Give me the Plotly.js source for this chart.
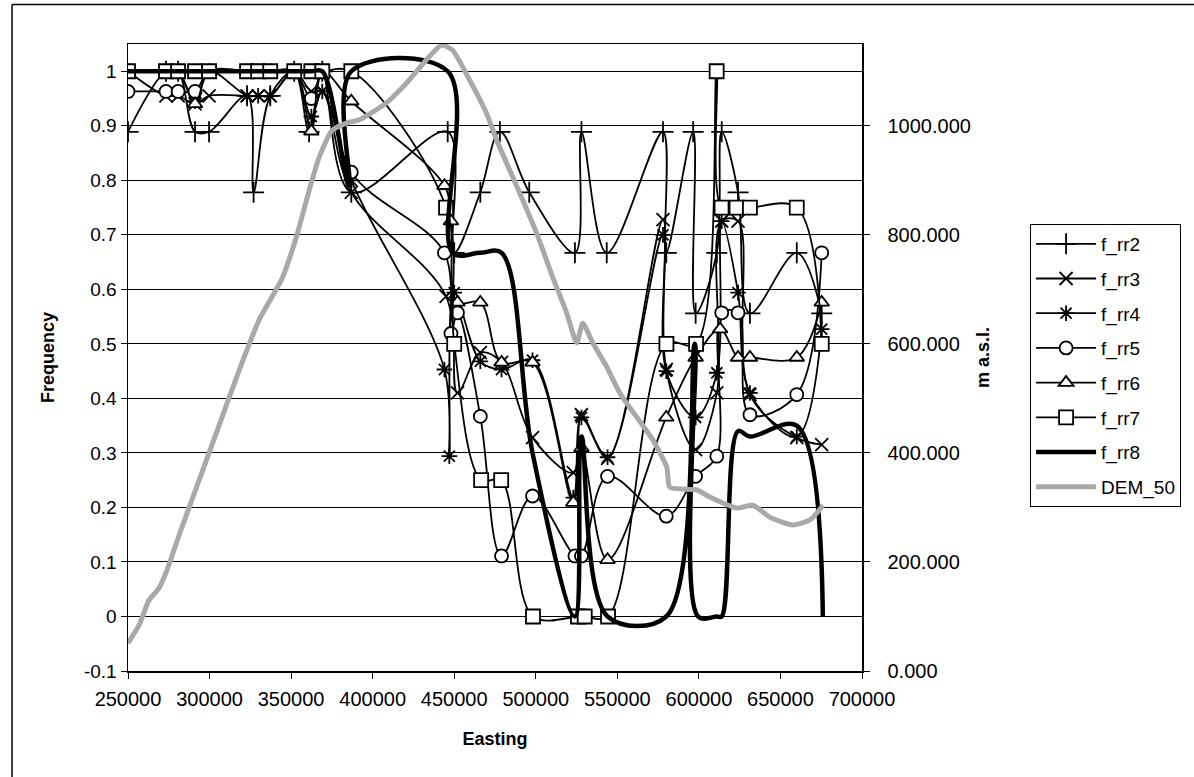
<!DOCTYPE html>
<html>
<head>
<meta charset="utf-8">
<script src="https://cdn.plot.ly/plotly-3.0.1.min.js"></script>
<style>html,body{margin:0;padding:0;background:#fff;}#chart{width:1194px;height:777px;}</style>
</head>
<body>
<div id="chart"></div>
<script>
// ---- data ----
const x_rr2 = [250000, 273300, 280700, 291100, 299700, 323000, 327000, 337200, 351900, 361000, 369100, 386900, 446000, 450000, 466000, 478000, 496000, 524000, 528000, 543500, 578000, 580000, 596500, 598000, 611000, 614000, 624000, 631300, 660000, 675300];
const f_rr2 = [0.889, 1, 1, 0.889, 0.889, 0.955, 0.778, 0.955, 1, 0.889, 1, 0.778, 0.889, 0.667, 0.778, 0.889, 0.778, 0.667, 0.889, 0.667, 0.889, 0.667, 0.889, 0.556, 0.667, 0.889, 0.778, 0.556, 0.667, 0.556];

const x_rr3 = [250000, 273300, 280700, 291100, 299700, 323000, 329800, 337200, 351900, 362400, 369100, 386900, 445000, 452000, 466000, 479000, 498000, 523000, 528000, 544000, 578000, 580000, 598000, 611000, 614000, 624000, 631300, 660000, 675300];
const f_rr3 = [1, 0.955, 0.955, 0.94, 0.955, 0.955, 0.955, 0.955, 1, 0.963, 0.963, 0.778, 0.587, 0.41, 0.484, 0.466, 0.328, 0.264, 0.37, 0.29, 0.728, 0.453, 0.306, 0.41, 0.725, 0.725, 0.407, 0.328, 0.315];

const x_rr4 = [250000, 273300, 280700, 291100, 299700, 323000, 329800, 337200, 351900, 362400, 369100, 386900, 444000, 447000, 450000, 466000, 479000, 498000, 523000, 528000, 544000, 578000, 580000, 598000, 611000, 614000, 624000, 631300, 660000, 675300];
const f_rr4 = [1, 1, 1, 0.945, 1, 0.955, 0.955, 0.955, 1, 0.917, 0.963, 0.8, 0.453, 0.294, 0.594, 0.468, 0.453, 0.47, 0.218, 0.365, 0.292, 0.7, 0.45, 0.365, 0.447, 0.725, 0.594, 0.41, 0.33, 0.527];

const x_rr5 = [250000, 273300, 280700, 291100, 299700, 323000, 329800, 337200, 351900, 362400, 369100, 386900, 444000, 448000, 452000, 466000, 479000, 498000, 524000, 528000, 544000, 580000, 598000, 611000, 614000, 624000, 631300, 660000, 675300];
const f_rr5 = [0.963, 0.963, 0.963, 0.963, 1, 1, 1, 1, 1, 0.95, 1, 0.815, 0.667, 0.519, 0.557, 0.367, 0.111, 0.221, 0.111, 0.111, 0.257, 0.184, 0.257, 0.294, 0.557, 0.557, 0.37, 0.407, 0.667];

const x_rr6 = [250000, 273300, 280700, 291100, 299700, 323000, 329800, 337200, 351900, 362400, 369100, 386900, 444000, 448000, 452000, 466000, 479000, 498000, 523000, 528000, 544000, 580000, 598000, 613000, 624000, 631300, 660000, 675300];
const f_rr6 = [1, 1, 1, 0.94, 1, 1, 1, 1, 1, 0.89, 1, 0.945, 0.79, 0.725, 0.576, 0.576, 0.466, 0.466, 0.209, 0.309, 0.104, 0.365, 0.475, 0.527, 0.475, 0.475, 0.475, 0.576];

const x_rr7 = [250000, 273300, 280700, 291100, 299700, 323000, 329800, 337200, 351900, 362400, 369100, 386900, 445000, 450000, 466500, 478800, 498300, 525900, 530000, 544300, 580100, 598300, 610900, 613900, 623100, 631300, 660000, 675300];
const f_rr7 = [1, 1, 1, 1, 1, 1, 1, 1, 1, 1, 1, 1, 0.75, 0.5, 0.25, 0.25, 0, 0, 0, 0, 0.5, 0.5, 1, 0.75, 0.75, 0.75, 0.75, 0.5];

const x_rr8 = [250000, 273300, 280700, 291100, 299700, 323000, 329800, 337200, 351900, 362400, 369100, 385500, 386900, 446000, 449000, 466000, 479000, 498000, 524000, 528000, 544000, 580000, 597500, 599500, 611000, 614000, 624000, 631300, 660000, 676000];
const f_rr8 = [1, 1, 1, 1, 1, 1, 1, 1, 1, 1, 1, 0.79, 1, 1, 0.667, 0.667, 0.667, 0.3, 0, 0.33, 0, 0, 0.5, 0, 0, 0, 0.34, 0.33, 0.35, 0];

const x_dem = [250000, 256750, 262900, 269000, 273900, 281300, 293600, 305900, 318200, 330400, 344600, 353200, 361100, 367300, 375300, 383900, 391800, 408400, 420700, 433000, 442200, 448900, 459400, 469800, 476000, 490100, 500500, 510300, 518900, 525100, 528800, 534900, 543500, 551500, 571700, 580300, 582200, 598800, 606700, 623300, 633100, 643600, 657700, 668100, 676100];
const dem_50 = [51, 84, 130, 152, 185, 249, 350, 451, 552, 644, 721, 796, 882, 943, 992, 1005, 1011, 1042, 1078, 1121, 1148, 1139, 1084, 1023, 974, 877, 803, 723, 657, 602, 638, 602, 558, 510, 424, 374, 337, 332, 319, 299, 304, 282, 268, 277, 304];

const freqTickVals = [-0.1, 0, 0.1, 0.2, 0.3, 0.4, 0.5, 0.6, 0.7, 0.8, 0.9, 1];
const freqTickText = ['-0.1', '0', '0.1', '0.2', '0.3', '0.4', '0.5', '0.6', '0.7', '0.8', '0.9', '1'];
const elevTickVals = [0, 200, 400, 600, 800, 1000];
const elevTickText = ['0.000', '200.000', '400.000', '600.000', '800.000', '1000.000'];

// ---- traces ----
const FONT = 'Liberation Sans, Arial, sans-serif';
function series(name, xs, ys, marker, lineWidth, gi) {
  const t = {
    type: 'scatter', mode: marker ? 'lines+markers' : 'lines', name: name,
    x: xs, y: ys, legendgroup: 'g' + gi,
    line: {color: 'black', width: lineWidth, shape: 'spline', smoothing: 1}
  };
  if (marker) t.marker = marker;
  return t;
}
const openLine = {color: 'black', width: 1.8};
const traces = [
  series('f_rr2', x_rr2, f_rr2, {symbol: 'cross-thin-open', size: 15, color: 'black', line: openLine}, 1.8, 2),
  series('f_rr3', x_rr3, f_rr3, {symbol: 'x-thin-open', size: 13, color: 'black', line: openLine}, 1.8, 3),
  series('f_rr4', x_rr4, f_rr4, {symbol: 'asterisk-open', size: 13, color: 'black', line: openLine}, 1.8, 4),
  series('f_rr5', x_rr5, f_rr5, {symbol: 'circle', size: 13, color: 'white', line: openLine}, 1.8, 5),
  series('f_rr6', x_rr6, f_rr6, {symbol: 'triangle-up', size: 13, color: 'white', line: openLine}, 1.8, 6),
  series('f_rr7', x_rr7, f_rr7, {symbol: 'square', size: 14, color: 'white', line: openLine}, 1.8, 7),
  series('f_rr8', x_rr8, f_rr8, null, 4.5, 8),
  {
    type: 'scatter', mode: 'lines', name: 'DEM_50', x: x_dem, y: dem_50, yaxis: 'y2', legendgroup: 'g9',
    line: {color: '#a9a9a9', width: 5, shape: 'spline', smoothing: 0.6}
  }
];

const layout = {
  width: 1194, height: 777,
  margin: {l: 128, r: 332, t: 44, b: 106, pad: 0},
  paper_bgcolor: 'white', plot_bgcolor: 'white',
  font: {family: FONT, size: 16, color: 'black'},
  showlegend: true,
  xaxis: {
    range: [250000, 700000], tick0: 250000, dtick: 50000, tickformat: 'd',
    showgrid: false, zeroline: false, showline: true, linecolor: 'black', linewidth: 1.5, mirror: true,
    ticks: 'outside', ticklen: 6, tickcolor: 'black', tickfont: {size: 20}, ticklabelstandoff: 3,
    title: {text: '<b>Easting</b>', font: {size: 18}, standoff: 24}
  },
  yaxis: {
    range: [-0.1, 1.05], tickvals: freqTickVals, ticktext: freqTickText,
    showgrid: true, gridcolor: 'black', gridwidth: 1, zeroline: false,
    showline: true, linecolor: 'black', linewidth: 1.5, mirror: true,
    ticks: 'outside', ticklen: 6, tickcolor: 'black', tickfont: {size: 19},
    title: {text: '<b>Frequency</b>', font: {size: 18}, standoff: 24}
  },
  yaxis2: {
    overlaying: 'y', side: 'right', range: [0, 1150],
    tickvals: elevTickVals, ticktext: elevTickText,
    showgrid: false, zeroline: false, showline: true, linecolor: 'black', linewidth: 1.5,
    ticks: 'outside', ticklen: 6, tickcolor: 'black', tickfont: {size: 20}, ticklabelstandoff: 14,
    title: {text: '<b>m a.s.l.</b>', font: {size: 18}, standoff: 6}
  },
  legend: {
    x: 1.229, y: 0.713, xanchor: 'left', yanchor: 'top',
    bordercolor: 'black', borderwidth: 1, bgcolor: 'white',
    font: {size: 19}, tracegroupgap: 7, itemwidth: 60
  },
  shapes: [
    {type: 'line', xref: 'paper', yref: 'paper', x0: -0.158, x1: 1.6, y0: 1.063, y1: 1.063, line: {color: 'black', width: 1.5}},
    {type: 'line', xref: 'paper', yref: 'paper', x0: -0.158, x1: -0.158, y0: 1.063, y1: -0.2, line: {color: 'black', width: 1.5}}
  ]
};

Plotly.newPlot('chart', traces, layout, {displayModeBar: false, staticPlot: true});
</script>
</body>
</html>
